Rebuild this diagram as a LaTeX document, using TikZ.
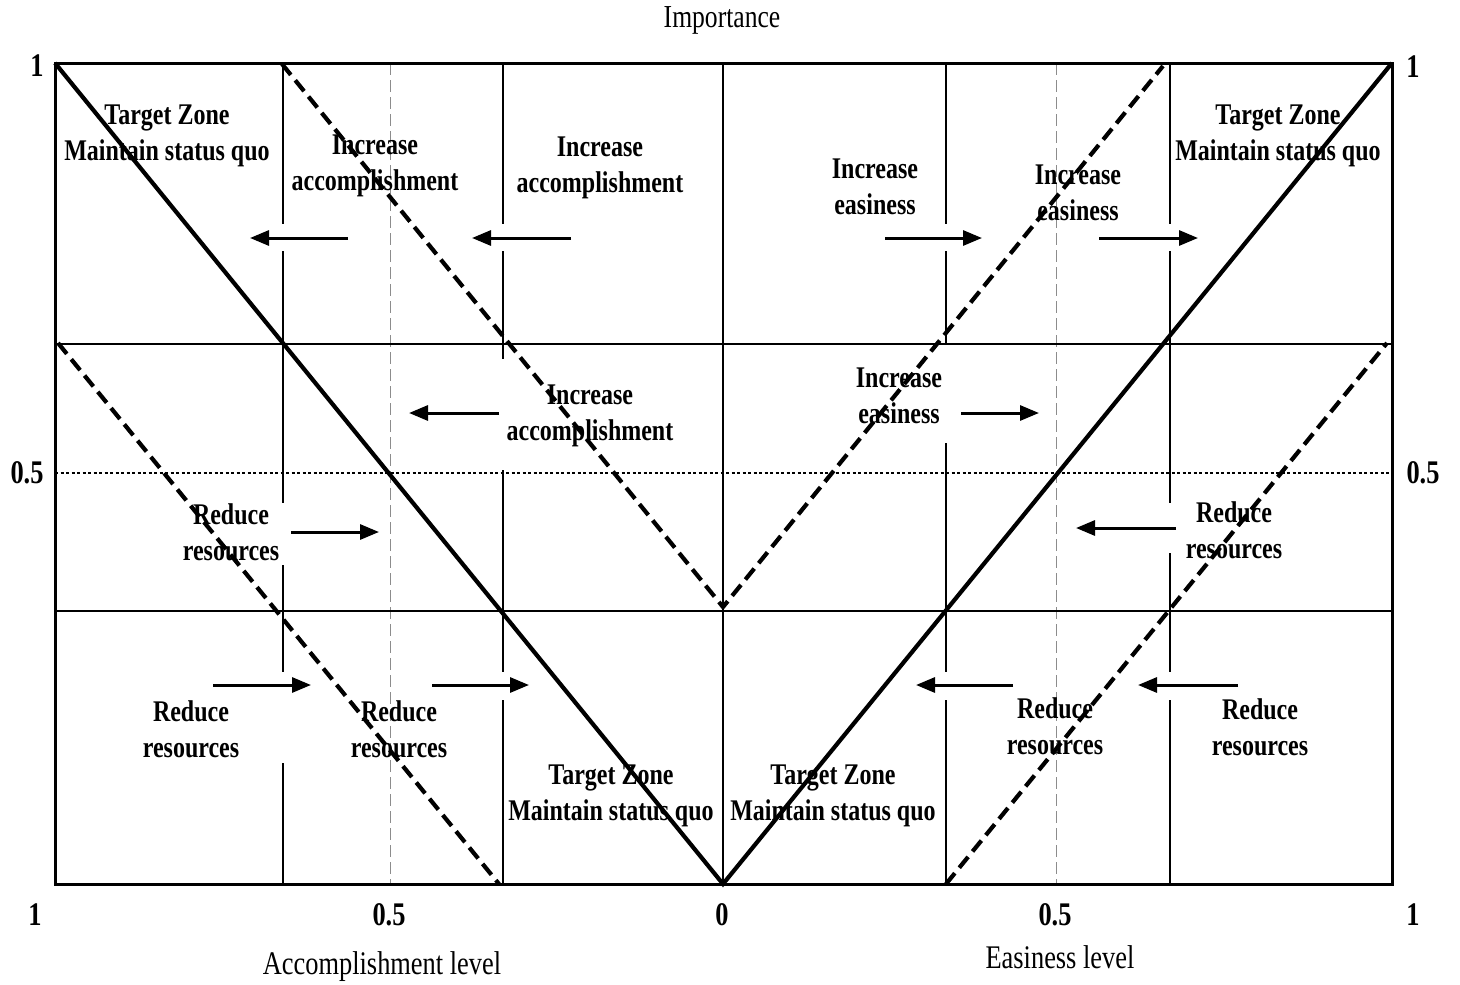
\documentclass[tikz,border=0pt]{standalone}
\usepackage{fontspec}
\setmainfont{Liberation Serif}
\newfontfamily\condf[FakeStretch=0.8]{Liberation Serif}
\usetikzlibrary{arrows.meta}
\tikzset{
  frameline/.style={line width=3pt},
  gridline/.style={line width=2.9pt},
  diagsolid/.style={line width=4.2pt},
  diagdash/.style={line width=4.2pt, dash pattern=on 14pt off 7pt},
  halfline/.style={draw=black!45, line width=1pt, dash pattern=on 12pt off 5pt},
  dotline/.style={line width=1.3pt, dash pattern=on 3pt off 2.5pt},
  arr/.style={line width=3pt, -{Triangle[length=19pt,width=15pt]}},
  lbl/.style={font=\condf\bfseries\fontsize{30}{36}\selectfont, align=center, inner sep=0pt},
  numlbl/.style={font=\condf\bfseries\fontsize{33}{36}\selectfont, inner sep=0pt},
  axislbl/.style={font=\condf\fontsize{33}{36}\selectfont, inner sep=0pt},
  toplbl/.style={font=\condf\fontsize{32}{36}\selectfont, inner sep=0pt}
}
\begin{document}
\begin{tikzpicture}[x=1pt,y=-1pt]
\useasboundingbox (0,0) rectangle (1460,985);

% half-level gray dashed verticals and 0.5 dotted line
\draw[halfline] (390,63) -- (390,884);
\draw[halfline] (1056,63) -- (1056,884);
\draw[dotline] (55,473) -- (1392,473);

% horizontal grid lines
\draw[gridline] (55,344) -- (1392,344);
\draw[gridline] (55,611) -- (1392,611);
% centre vertical
\draw[gridline] (723,63) -- (723,884);

% vertical grid lines with gaps
\draw[gridline] (283,63) -- (283,224) (283,251) -- (283,503) (283,565) -- (283,672) (283,763) -- (283,884);
\draw[gridline] (503,63) -- (503,224) (503,251) -- (503,359) (503,470) -- (503,672) (503,700) -- (503,884);
\draw[gridline] (946,63) -- (946,224) (946,251) -- (946,344) (946,443) -- (946,672) (946,700) -- (946,884);
\draw[gridline] (1170,63) -- (1170,224) (1170,251) -- (1170,503) (1170,553) -- (1170,672) (1170,700) -- (1170,884);

% frame
\draw[frameline] (55,63) rectangle (1392,884);

% diagonals
\draw[diagsolid] (55,63) -- (723,884) -- (1392,63);
\draw[diagdash] (282,64) -- (723,607) -- (1163,66);
\draw[diagdash] (58,343) -- (499,884);
\draw[diagdash] (946,884) -- (1387,343);

% arrow coordinates
\coordinate (a1s) at (348,238);  \coordinate (a1e) at (250,238);
\coordinate (a2s) at (571,238);  \coordinate (a2e) at (472,238);
\coordinate (a3s) at (885,238);  \coordinate (a3e) at (982,238);
\coordinate (a4s) at (1099,238); \coordinate (a4e) at (1198,238);
\coordinate (a5s) at (499,413);  \coordinate (a5e) at (409,413);
\coordinate (a6s) at (961,413);  \coordinate (a6e) at (1039,413);
\coordinate (a7s) at (291,532);  \coordinate (a7e) at (379,532);
\coordinate (a8s) at (1176,528); \coordinate (a8e) at (1076,528);
\coordinate (a9s) at (213,685);  \coordinate (a9e) at (311,685);
\coordinate (a10s) at (432,685); \coordinate (a10e) at (529,685);
\coordinate (a11s) at (1013,685);\coordinate (a11e) at (916,685);
\coordinate (a12s) at (1238,685);\coordinate (a12e) at (1138,685);
\foreach \i in {1,...,12} {\draw[arr] (a\i s) -- (a\i e);}

% zone labels
\node[lbl] (tzTL) at (167,136) {Target Zone\\Maintain status quo};
\node[lbl] (ia1) at (375,166) {Increase\\accomplishment};
\node[lbl] (ia2) at (600,168) {Increase\\accomplishment};
\node[lbl] (ie1) at (875,187) {Increase\\easiness};
\node[lbl] (ie2) at (1078,193) {Increase\\easiness};
\node[lbl] (tzTR) at (1278,136) {Target Zone\\Maintain status quo};
\node[lbl] (ia3) at (590,416) {Increase\\accomplishment};
\node[lbl] (ie3) at (899,396) {Increase\\easiness};
\node[lbl] (rr1) at (231,532) {Reduce\\resources};
\node[lbl] (rr2) at (1234,530) {Reduce\\resources};
\node[lbl] (rr3) at (191,729) {Reduce\\resources};
\node[lbl] (rr4) at (399,729) {Reduce\\resources};
\node[lbl] (rr5) at (1055,726) {Reduce\\resources};
\node[lbl] (rr6) at (1260,727) {Reduce\\resources};
\node[lbl] (tzBL) at (611,796) {Target Zone\\Maintain status quo};
\node[lbl] (tzBR) at (833,796) {Target Zone\\Maintain status quo};

% axis labels
\node[toplbl] (imp) at (722,20) {Importance};
\node[numlbl] (yTL) at (37,66) {1};
\node[numlbl] (yTR) at (1413,67) {1};
\node[numlbl] (yML) at (27,473) {0.5};
\node[numlbl] (yMR) at (1423,473) {0.5};
\node[numlbl] (x1L) at (35,915) {1};
\node[numlbl] (x5L) at (389,915) {0.5};
\node[numlbl] (x0) at (722,915) {0};
\node[numlbl] (x5R) at (1055,915) {0.5};
\node[numlbl] (x1R) at (1413,915) {1};
\node[axislbl] (accl) at (382,967) {Accomplishment level};
\node[axislbl] (easl) at (1060,957) {Easiness level};
\end{tikzpicture}
\end{document}
